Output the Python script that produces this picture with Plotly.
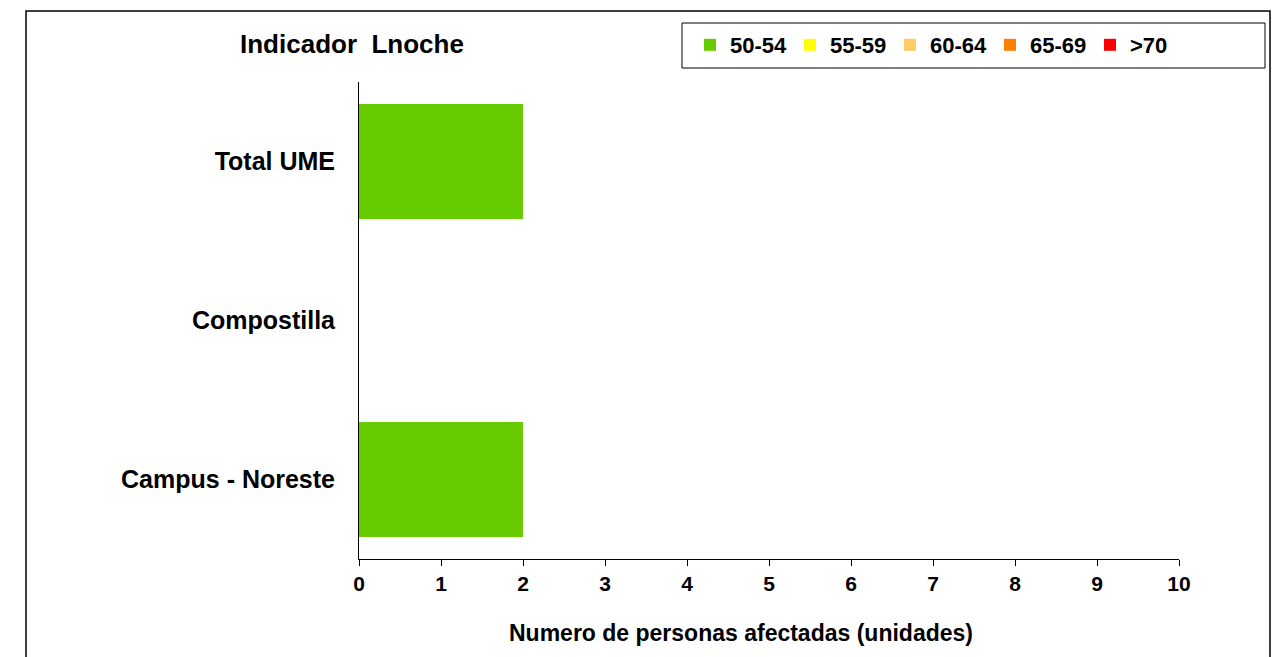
import plotly.graph_objects as go

categories = ["Total UME", "Compostilla", "Campus - Noreste"]
series_names = ["50-54", "55-59", "60-64", "65-69", ">70"]
series_values = {
    "50-54": [2, 0, 2],
    "55-59": [0, 0, 0],
    "60-64": [0, 0, 0],
    "65-69": [0, 0, 0],
    ">70": [0, 0, 0],
}
series_colors = ["#66CC00", "#FFFF00", "#FFCC66", "#FF8000", "#FF0000"]
x_ticks = list(range(0, 11))
x_title = "Numero de personas afectadas (unidades)"
chart_title = "Indicador  Lnoche"

W, H = 1277, 657
L, R, T, B = 359, 98, 82, 98
pw, ph = W - L - R, H - T - B

def px_x(p):
    return (p - L) / pw

def px_y(p):
    return (H - B - p) / ph

FONT = "Liberation Sans, Arial, sans-serif"

fig = go.Figure()
for name, color in zip(series_names, series_colors):
    fig.add_trace(go.Bar(
        y=categories, x=series_values[name], name=name, orientation="h",
        marker=dict(color=color, line=dict(width=0)), width=0.72,
    ))

fig.update_layout(
    width=W, height=H, barmode="stack",
    margin=dict(l=L, r=R, t=T, b=B),
    paper_bgcolor="white", plot_bgcolor="white",
    font=dict(family=FONT, color="black"),
    showlegend=True,
    legend=dict(
        orientation="h", x=px_x(690), y=px_y(45), xanchor="left", yanchor="middle",
        borderwidth=0, bgcolor="rgba(0,0,0,0)",
        font=dict(size=22, family=FONT, color="black", weight="bold"),
        entrywidth=55, entrywidthmode="pixels", itemsizing="constant",
        traceorder="normal",
    ),
    xaxis=dict(
        range=[0, 10], tickmode="array", tickvals=x_ticks,
        showgrid=False, zeroline=False, showline=True, linecolor="black", linewidth=1,
        ticks="outside", ticklen=6, tickcolor="black",
        tickfont=dict(size=21, family=FONT, weight="bold"),
    ),
    yaxis=dict(
        categoryorder="array", categoryarray=categories, autorange="reversed",
        showgrid=False, zeroline=False, showline=True, linecolor="black", linewidth=1,
        ticks="", ticklabelstandoff=18,
        tickfont=dict(size=25, family=FONT, weight="bold"),
    ),
    annotations=[
        dict(
            text=chart_title, xref="paper", yref="paper",
            x=px_x(352), y=px_y(44), xanchor="center", yanchor="middle",
            showarrow=False, font=dict(size=26, family=FONT, weight="bold", color="black"),
        ),
        dict(
            text=x_title, xref="paper", yref="paper",
            x=px_x(741), y=px_y(633), xanchor="center", yanchor="middle",
            showarrow=False, font=dict(size=23, family=FONT, weight="bold", color="black"),
        ),
    ],
    shapes=[
        dict(
            type="rect", xref="paper", yref="paper",
            x0=px_x(26), x1=px_x(1270), y0=px_y(720), y1=px_y(11),
            line=dict(color="black", width=1.5), fillcolor="rgba(0,0,0,0)", layer="below",
        ),
        dict(
            type="rect", xref="paper", yref="paper",
            x0=px_x(682), x1=px_x(1265), y0=px_y(68), y1=px_y(23),
            line=dict(color="black", width=1), fillcolor="rgba(0,0,0,0)", layer="below",
        ),
    ],
)

fig.write_html("out.html")
